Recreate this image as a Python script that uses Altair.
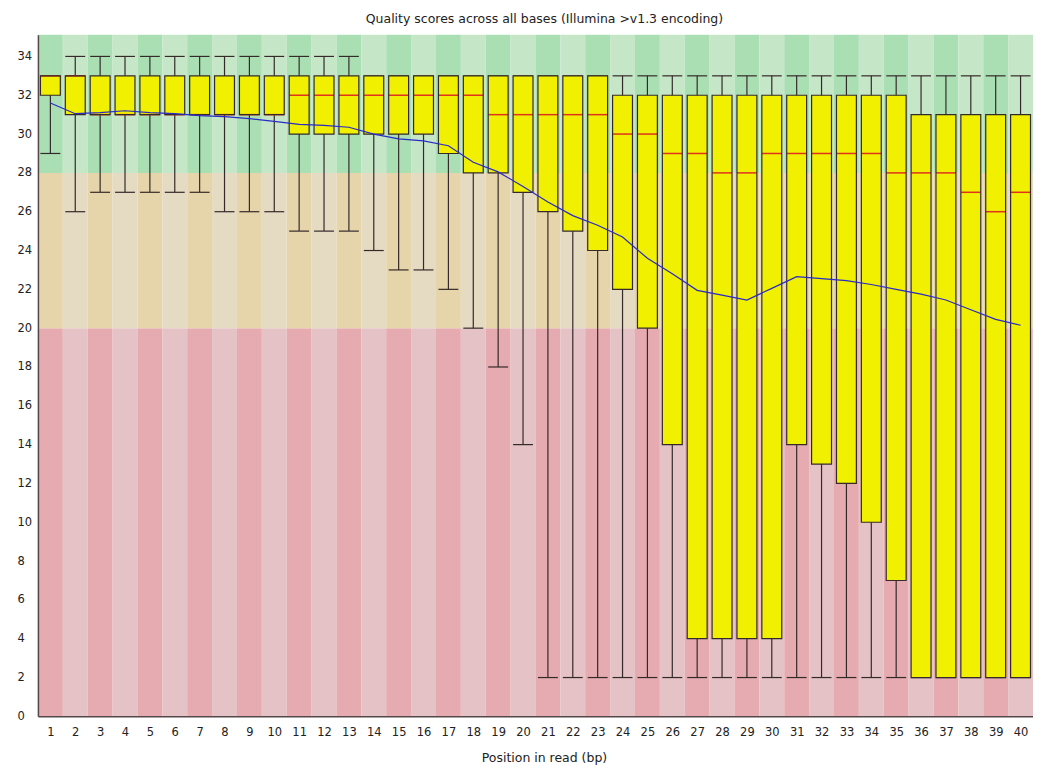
import altair as alt
import pandas as pd

# ---- data ----
positions = list(range(1, 41))
whisker_high = [33] + [34] * 12 + [33] * 27
box_high = [33] * 23 + [32] * 12 + [31] * 5
median = [33, 33, 31, 31, 31, 31, 31, 31, 31, 31,
          32, 32, 32, 32, 32, 32, 32, 32, 31, 31,
          31, 31, 31, 30, 30, 29, 29, 28, 28, 29,
          29, 29, 29, 29, 28, 28, 28, 27, 26, 27]
box_low = [32, 31, 31, 31, 31, 31, 31, 31, 31, 31,
           30, 30, 30, 30, 30, 30, 29, 28, 28, 27,
           26, 25, 24, 22, 20, 14, 4, 4, 4, 4,
           14, 13, 12, 10, 7, 2, 2, 2, 2, 2]
whisker_low = [29, 26, 27, 27, 27, 27, 27, 26, 26, 26,
               25, 25, 25, 24, 23, 23, 22, 20, 18, 14,
               2, 2, 2, 2, 2, 2, 2, 2, 2, 2,
               2, 2, 2, 2, 2, 2, 2, 2, 2, 2]
mean = [31.6, 31.05, 31.1, 31.2, 31.1, 31.05, 30.95, 30.9, 30.8, 30.65,
        30.5, 30.45, 30.35, 30.0, 29.75, 29.65, 29.4, 28.55, 28.05, 27.3,
        26.5, 25.8, 25.3, 24.7, 23.6, 22.8, 21.95, 21.7, 21.45, 22.05,
        22.65, 22.55, 22.45, 22.25, 22.0, 21.75, 21.45, 20.95, 20.45, 20.15]

y_ticks = list(range(0, 35, 2))
y_max = 35.12

zone_low = [0, 20, 28]
zone_high = [20, 28, y_max]
zone_dark = ["#e6abb0", "#e6d5aa", "#aadfb4"]
zone_light = ["#e5c2c5", "#e5dbc3", "#c6e6c8"]

title_text = "Quality scores across all bases (Illumina >v1.3 encoding)"
x_title = "Position in read (bp)"

# ---- tables ----
stats = pd.DataFrame({
    "pos": positions,
    "whi": whisker_high,
    "q3": box_high,
    "med": median,
    "q1": box_low,
    "wlo": whisker_low,
    "mean": mean,
})

bg_rows = []
for p in positions:
    for lo, hi, dk, lt in zip(zone_low, zone_high, zone_dark, zone_light):
        bg_rows.append({"pos": p, "lo": lo, "hi": hi,
                        "col": dk if p % 2 == 1 else lt})
bg = pd.DataFrame(bg_rows)

FONT = "DejaVu Sans"
xscale = alt.Scale(domain=[0.5, 40.5], nice=False, zero=False)
yscale = alt.Scale(domain=[0, y_max], nice=False, zero=False)
BW = 0.4
EDGE = "#352a2a"

x_axis = alt.Axis(values=positions, format="d", labelFont=FONT,
                  labelFontSize=11.5, labelColor="#222", ticks=False,
                  tickSize=0, grid=False, domainColor="#554848",
                  domainWidth=1.5, labelPadding=10, zindex=2,
                  title=x_title, titleFont=FONT, titleFontSize=12.5,
                  titleFontWeight="normal", titleColor="#222",
                  titlePadding=14, titleX=507,
                  labelFlush=False, labelOverlap=False, labelSeparation=0)
y_axis = alt.Axis(values=y_ticks, format="d", labelFont=FONT,
                  labelFontSize=11.5, labelColor="#222", ticks=False,
                  tickSize=0, grid=False, domainColor="#554848",
                  domainWidth=1.5, labelPadding=21, labelAlign="left",
                  labelBaseline="middle", title=None, zindex=2,
                  labelFlush=False, labelOverlap=False)


def X(field):
    return alt.X(field, scale=xscale, axis=x_axis)


def Y(field):
    return alt.Y(field, scale=yscale, axis=y_axis)


background = alt.Chart(bg).mark_rect(strokeWidth=0).transform_calculate(
    xa="datum.pos - 0.5", xb="datum.pos + 0.5"
).encode(
    x=X("xa:Q"), x2="xb:Q",
    y=Y("lo:Q"), y2="hi:Q",
    color=alt.Color("col:N", scale=None),
)

base = alt.Chart(stats).transform_calculate(
    xa=f"datum.pos - {BW}", xb=f"datum.pos + {BW}"
)

whisker = base.mark_rule(color=EDGE, strokeWidth=1.2).encode(
    x=X("pos:Q"), y=Y("wlo:Q"), y2="whi:Q",
)
cap_hi = base.mark_rule(color=EDGE, strokeWidth=1.2).encode(
    x=X("xa:Q"), x2="xb:Q", y=Y("whi:Q"),
)
cap_lo = base.mark_rule(color=EDGE, strokeWidth=1.2).encode(
    x=X("xa:Q"), x2="xb:Q", y=Y("wlo:Q"),
)
box_fill = base.mark_rect(color="#f0f000", strokeWidth=0).encode(
    x=X("xa:Q"), x2="xb:Q", y=Y("q1:Q"), y2="q3:Q",
)
med_line = base.mark_rule(color="#e0321c", strokeWidth=1.5).encode(
    x=X("xa:Q"), x2="xb:Q", y=Y("med:Q"),
)
box_edge = base.mark_rect(fillOpacity=0, stroke=EDGE, strokeWidth=1.2).encode(
    x=X("xa:Q"), x2="xb:Q", y=Y("q1:Q"), y2="q3:Q",
)
mean_line = base.mark_line(color="#2a2ac8", strokeWidth=1.2).encode(
    x=X("pos:Q"), y=Y("mean:Q"),
)

chart = alt.layer(
    background, whisker, cap_hi, cap_lo, box_fill, med_line, box_edge, mean_line
).properties(
    width=997,
    height=683,
    padding={"left": 9, "top": 4, "right": 0, "bottom": 2},
    title=alt.TitleParams(text=title_text, font=FONT, fontSize=12.5,
                          fontWeight="normal", color="#222", anchor="middle",
                          offset=9, dx=9),
).configure_view(stroke=None).configure_axis(
    labelOverlap=False, labelFlush=False
)

chart.save("out.html", embed_options={"renderer": "svg", "actions": False})
